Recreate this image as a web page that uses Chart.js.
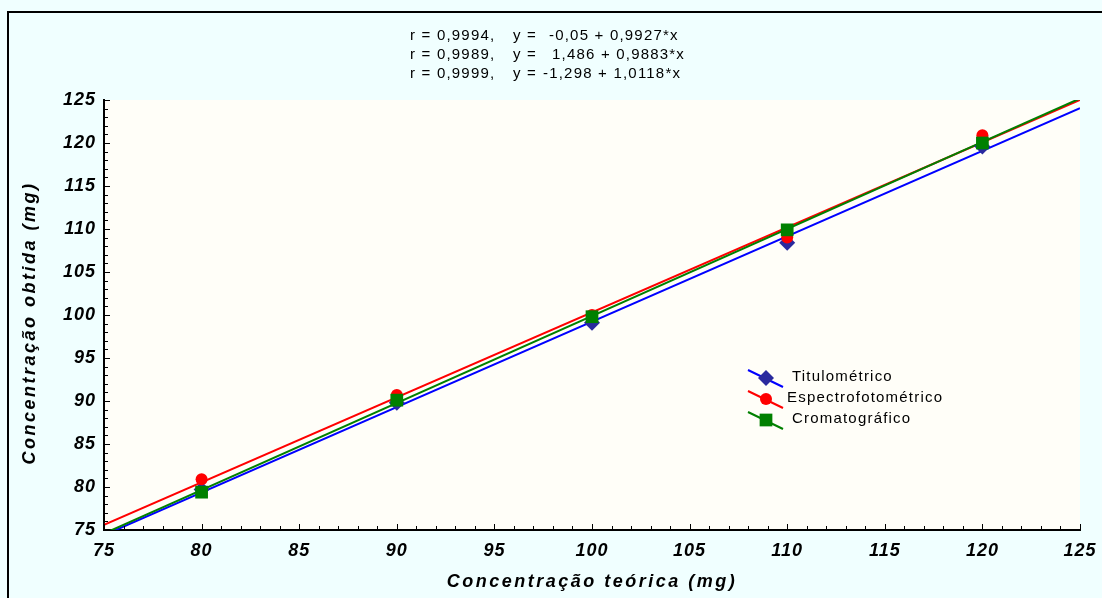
<!DOCTYPE html>
<html>
<head>
<meta charset="utf-8">
<script src="https://cdn.jsdelivr.net/npm/chart.js"></script>
<style>
  html, body { margin: 0; padding: 0; background: #f0ffff; }
  canvas { display: block; }
</style>
</head>
<body>
<canvas id="chart" width="1102" height="598"></canvas>
<script>
// nominal (theoretical) concentrations, mg
const teorica = [80, 90, 100, 110, 120];

const titulometrico = [79.7, 89.8, 99.1, 108.4, 119.6];
const espectrofotometrico = [80.9, 90.7, 100.0, 109.0, 120.9];
const cromatografico = [79.4, 90.1, 99.8, 109.9, 120.0];

// fitted lines, ends at x = 75 and x = 125
const fitX = [75, 125];
const fitTitulometrico = [74.40, 124.04];
const fitEspectrofotometrico = [75.61, 125.02];
const fitCromatografico = [74.59, 125.18];

const ticksXY = [75, 80, 85, 90, 95, 100, 105, 110, 115, 120, 125];

const equations = [
  ['r = 0,9994,', 'y =', '-0,05 + 0,9927*x'],
  ['r = 0,9989,', 'y =', '1,486 + 0,9883*x'],
  ['r = 0,9999,', 'y =', '-1,298 + 1,0118*x']
];
const seriesNames = ['Titulométrico', 'Espectrofotométrico', 'Cromatográfico'];
const xTitle = 'Concentração teórica (mg)';
const yTitle = 'Concentração obtida (mg)';

const pts = (xs, ys) => xs.map((x, i) => ({ x: x, y: ys[i] }));

const FAMILY = 'Arial, "Liberation Sans"';
const tickFont = { family: FAMILY, size: 18, style: 'italic', weight: 'bold' };

function drawMarker(ctx, style, r, x, y) {
  if (style === 'circle') {
    ctx.arc(x, y, r, 0, Math.PI * 2);
  } else if (style === 'rect') {
    const s = r * Math.SQRT1_2;
    ctx.rect(x - s, y - s, 2 * s, 2 * s);
  } else {
    ctx.moveTo(x, y - r); ctx.lineTo(x + r, y); ctx.lineTo(x, y + r); ctx.lineTo(x - r, y); ctx.closePath();
  }
}

// background, frame, inward ticks, axis titles, equations and the legend
const decor = {
  id: 'decor',
  beforeDraw(chart) {
    const ctx = chart.ctx;
    const a = chart.chartArea;
    ctx.save();
    ctx.fillStyle = '#f0ffff';
    ctx.fillRect(0, 0, chart.width, chart.height);
    ctx.strokeStyle = '#000';
    ctx.lineWidth = 2;
    ctx.strokeRect(8, 12, chart.width + 20, chart.height + 20);
    ctx.fillStyle = '#fffef8';
    ctx.fillRect(a.left, a.top, a.right - a.left, a.bottom - a.top);
    ctx.restore();
    // the tick labels are drawn a bit spaced out like the original
    ctx.letterSpacing = '1px';
  },
  afterDraw(chart) {
    const ctx = chart.ctx;
    const a = chart.chartArea;
    const sx = chart.scales.x, sy = chart.scales.y;
    ctx.save();
    ctx.strokeStyle = '#000';
    ctx.lineWidth = 1;
    ctx.beginPath();
    for (let v = 75; v <= 125; v++) {
      const len = v % 5 === 0 ? 6 : 4;
      const px = Math.round(sx.getPixelForValue(v)) + 0.5;
      ctx.moveTo(px, a.bottom);
      ctx.lineTo(px, a.bottom - len);
      const py = Math.round(sy.getPixelForValue(v)) + 0.5;
      ctx.moveTo(a.left, py);
      ctx.lineTo(a.left + len, py);
    }
    ctx.stroke();

    // axis titles
    ctx.fillStyle = '#000';
    ctx.letterSpacing = '2.5px';
    ctx.font = 'italic bold 18px ' + FAMILY;
    ctx.textAlign = 'center';
    ctx.textBaseline = 'middle';
    ctx.fillText(xTitle, (a.left + a.right) / 2, 582);
    ctx.save();
    ctx.translate(30, (a.top + a.bottom) / 2 + 8);
    ctx.rotate(-Math.PI / 2);
    ctx.fillText(yTitle, 0, 0);
    ctx.restore();

    // regression equations
    ctx.letterSpacing = '1.2px';
    ctx.font = '15px ' + FAMILY;
    ctx.textAlign = 'left';
    const eqX = [410, 513, [549, 552, 543]];
    equations.forEach((row, i) => {
      const y = 36 + i * 19;
      ctx.fillText(row[0], eqX[0], y);
      ctx.fillText(row[1], eqX[1], y);
      ctx.fillText(row[2], eqX[2][i], y);
    });

    // legend
    const items = chart.data.datasets.filter(d => d.isPoints);
    const lineCols = ['#0000ff', '#ff0000', '#008000'];
    const textX = [792, 787, 792];
    items.forEach((d, i) => {
      const cy = 378 + i * 21;
      ctx.strokeStyle = lineCols[i];
      ctx.lineWidth = 2;
      ctx.beginPath();
      ctx.moveTo(748, cy - 8);
      ctx.lineTo(783, cy + 9);
      ctx.stroke();
      ctx.fillStyle = d.pointBackgroundColor;
      ctx.beginPath();
      drawMarker(ctx, d.pointStyle, d.pointRadius, 766, cy);
      ctx.fill();
      ctx.fillStyle = '#000';
      ctx.fillText(d.label, textX[i], cy - 1);
    });
    ctx.restore();
    ctx.letterSpacing = '0px';
  }
};

new Chart(document.getElementById('chart'), {
  type: 'scatter',
  data: {
    datasets: [
      { label: seriesNames[2], isPoints: false, data: pts(fitX, fitCromatografico), showLine: true,
        borderColor: '#008000', borderWidth: 2, pointRadius: 0, order: 4 },
      { label: seriesNames[1], isPoints: false, data: pts(fitX, fitEspectrofotometrico), showLine: true,
        borderColor: '#ff0000', borderWidth: 2, pointRadius: 0, order: 5 },
      { label: seriesNames[0], isPoints: false, data: pts(fitX, fitTitulometrico), showLine: true,
        borderColor: '#0000ff', borderWidth: 2, pointRadius: 0, order: 6 },
      { label: seriesNames[0], isPoints: true, data: pts(teorica, titulometrico), pointStyle: 'rectRot',
        pointRadius: 8, pointBackgroundColor: '#2a2a9e', pointBorderWidth: 0, order: 3 },
      { label: seriesNames[1], isPoints: true, data: pts(teorica, espectrofotometrico), pointStyle: 'circle',
        pointRadius: 6, pointBackgroundColor: '#ff0000', pointBorderWidth: 0, order: 2 },
      { label: seriesNames[2], isPoints: true, data: pts(teorica, cromatografico), pointStyle: 'rect',
        pointRadius: 9, pointBackgroundColor: '#008000', pointBorderWidth: 0, order: 1 }
    ]
  },
  options: {
    responsive: false,
    animation: false,
    layout: { padding: { top: 100, right: 22, left: 0, bottom: 0 } },
    plugins: { legend: { display: false }, tooltip: { enabled: false } },
    scales: {
      x: {
        type: 'linear', min: 75, max: 125,
        afterBuildTicks: s => { s.ticks = ticksXY.map(v => ({ value: v })); },
        afterFit: s => { s.height = 68; s.paddingLeft = 0; s.paddingRight = 0; },
        grid: { display: false, drawTicks: false },
        border: { display: true, color: '#000', width: 2 },
        ticks: { color: '#000', font: tickFont, padding: 10, maxRotation: 0 },
        title: { display: false }
      },
      y: {
        type: 'linear', min: 75, max: 125,
        afterBuildTicks: s => { s.ticks = ticksXY.map(v => ({ value: v })); },
        afterFit: s => { s.width = 104; s.paddingTop = 0; s.paddingBottom = 0; },
        grid: { display: false, drawTicks: false },
        border: { display: true, color: '#000', width: 2 },
        ticks: { color: '#000', font: tickFont, padding: 8 },
        title: { display: false }
      }
    }
  },
  plugins: [decor]
});
</script>
</body>
</html>
